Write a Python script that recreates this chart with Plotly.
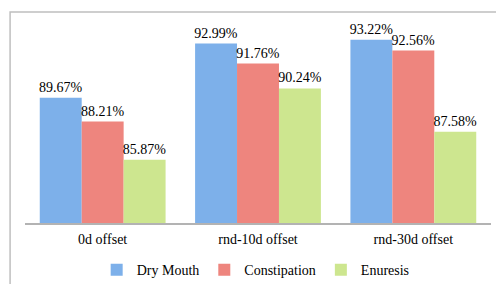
import plotly.graph_objects as go

categories = ["0d offset", "rnd-10d offset", "rnd-30d offset"]
dry_mouth = [89.67, 92.99, 93.22]
constipation = [88.21, 91.76, 92.56]
enuresis = [85.87, 90.24, 87.58]

series = [
    ("Dry Mouth", dry_mouth, "#7db0ea"),
    ("Constipation", constipation, "#ee857e"),
    ("Enuresis", enuresis, "#cde68f"),
]

font = dict(family="Liberation Serif", size=14, color="#000000")

fig = go.Figure()
for name, vals, color in series:
    fig.add_trace(go.Bar(
        x=categories, y=vals, name=name,
        marker=dict(color=color, line=dict(width=0)),
        text=[f"{v:.2f}%" for v in vals],
        textposition="outside", cliponaxis=False,
        constraintext="none",
        textfont=font,
    ))

fig.update_layout(
    width=496, height=284,
    margin=dict(l=25, r=5, t=27, b=61, autoexpand=False),
    paper_bgcolor="white", plot_bgcolor="white",
    barmode="group", bargap=0.19, bargroupgap=0,
    font=font,
    showlegend=True,
    legend=dict(orientation="h", x=0.495, xanchor="center", y=-0.24, yanchor="middle",
                font=font, itemwidth=30, tracegroupgap=0,
                bgcolor="rgba(0,0,0,0)"),
    xaxis=dict(showline=True, linecolor="#b3b3b3", linewidth=2, ticks="",
               tickfont=font, showgrid=False, ticklabelstandoff=2, automargin=False),
    yaxis=dict(range=[82, 94], visible=False, showgrid=False, automargin=False),
    shapes=[dict(type="rect", xref="paper", yref="paper",
                 x0=-0.032, x1=1.2, y0=-0.6, y1=1.0765,
                 line=dict(color="#bfbfbf", width=1.5), layer="below")],
)

fig.write_html("out.html", config={"displayModeBar": False},
               post_script="document.body.style.margin='0';")
